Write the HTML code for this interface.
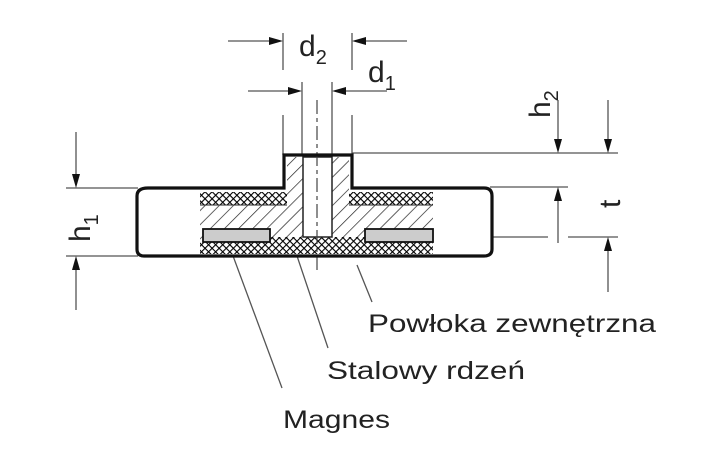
<!DOCTYPE html>
<html><head><meta charset="utf-8"><style>body{margin:0;background:#fff}svg{display:block}</style></head><body>
<svg width="705" height="472" viewBox="0 0 705 472" xmlns="http://www.w3.org/2000/svg" font-family="Liberation Sans, sans-serif">
<defs>
<pattern id="hat" width="10" height="10" patternUnits="userSpaceOnUse" patternTransform="rotate(45)">
<rect width="10" height="10" fill="#fff"/><line x1="0" y1="0" x2="0" y2="10" stroke="#222" stroke-width="1.4"/></pattern>
<pattern id="xh" width="5" height="5" patternUnits="userSpaceOnUse" patternTransform="rotate(45)">
<rect width="5" height="5" fill="#fff"/><path d="M0 0V5M0 0H5" stroke="#000" stroke-width="2.2"/></pattern>
</defs>
<g stroke="#555" stroke-width="1.3" fill="none">
<line x1="66" y1="188" x2="138" y2="188"/><line x1="66" y1="256" x2="138" y2="256"/>
<line x1="76" y1="132" x2="76" y2="175"/><line x1="76" y1="270" x2="76" y2="310"/>
<line x1="352" y1="153" x2="618" y2="153"/><line x1="490" y1="187" x2="568" y2="187"/>
<line x1="433" y1="237" x2="548" y2="237"/><line x1="568" y1="237" x2="618" y2="237"/>
<line x1="558" y1="100" x2="558" y2="140"/><line x1="608" y1="100" x2="608" y2="140"/>
<line x1="558" y1="200" x2="558" y2="243"/><line x1="608" y1="250" x2="608" y2="292"/>
<line x1="283" y1="33" x2="283" y2="70"/><line x1="352" y1="33" x2="352" y2="70"/>
<line x1="283" y1="115" x2="283" y2="155"/><line x1="352" y1="115" x2="352" y2="155"/>
<line x1="302" y1="82" x2="302" y2="155"/><line x1="332" y1="82" x2="332" y2="155"/>
<line x1="228" y1="41" x2="270" y2="41"/><line x1="365" y1="41" x2="407" y2="41"/>
<line x1="248" y1="91" x2="290" y2="91"/><line x1="345" y1="91" x2="387" y2="91"/>
<line x1="226" y1="237" x2="282" y2="388"/><line x1="295" y1="250" x2="328" y2="348"/><line x1="357" y1="265" x2="372" y2="302"/>
</g>
<g fill="#111">
<path d="M76 188l-4-14h8z"/><path d="M76 256l-4 14h8z"/>
<path d="M558 153l-4-14h8z"/><path d="M608 153l-4-14h8z"/>
<path d="M558 187l-4 14h8z"/><path d="M608 237l-4 14h8z"/>
<path d="M283 41l-14-4v8z"/><path d="M352 41l14-4v8z"/>
<path d="M302 91l-14-4v8z"/><path d="M332 91l14-4v8z"/>
</g>
<path d="M148 188H284V155H352V188H484Q492 188 492 196V249Q492 256 484 256H144Q137 256 137 249V196Q137 188 148 188Z" fill="#fff"/>
<rect x="200" y="192" width="233" height="13" fill="url(#xh)"/>
<rect x="200" y="242" width="233" height="12" fill="url(#xh)"/>
<rect x="200" y="205" width="233" height="37" fill="url(#hat)"/>
<rect x="287" y="157" width="62" height="48" fill="url(#hat)"/>
<rect x="270" y="237" width="95" height="6" fill="url(#xh)"/>
<line x1="200" y1="205" x2="287" y2="205" stroke="#222" stroke-width="1"/>
<line x1="349" y1="205" x2="433" y2="205" stroke="#222" stroke-width="1"/>
<rect x="203" y="229" width="67" height="13" fill="#ccc" stroke="#111" stroke-width="1.8"/>
<rect x="365" y="229" width="68" height="13" fill="#ccc" stroke="#111" stroke-width="1.8"/>
<rect x="303" y="157" width="29" height="80" fill="#fff" stroke="#222" stroke-width="1.5"/>
<line x1="317" y1="100" x2="317" y2="270" stroke="#444" stroke-width="1.2" stroke-dasharray="14,4,4,4"/>
<path d="M148 188H284V155H352V188H484Q492 188 492 196V249Q492 256 484 256H144Q137 256 137 249V196Q137 188 148 188Z" fill="none" stroke="#111" stroke-width="3.2"/>
<g fill="#222">
<text x="299" y="56" font-size="30">d<tspan font-size="20" dy="8">2</tspan></text>
<text x="368" y="82" font-size="30">d<tspan font-size="20" dy="8">1</tspan></text>
<text transform="translate(550,118) rotate(-90)" font-size="30">h<tspan font-size="20" dy="8">2</tspan></text>
<text transform="translate(90,242) rotate(-90)" font-size="30">h<tspan font-size="20" dy="8">1</tspan></text>
<text transform="translate(620,208) rotate(-90)" font-size="30">t</text>
<text x="368" y="332" font-size="25" textLength="288" lengthAdjust="spacingAndGlyphs">Powłoka zewnętrzna</text>
<text x="327" y="379" font-size="25" textLength="198" lengthAdjust="spacingAndGlyphs">Stalowy rdzeń</text>
<text x="283" y="428" font-size="25" textLength="107" lengthAdjust="spacingAndGlyphs">Magnes</text>
</g>
</svg>
</body></html>
